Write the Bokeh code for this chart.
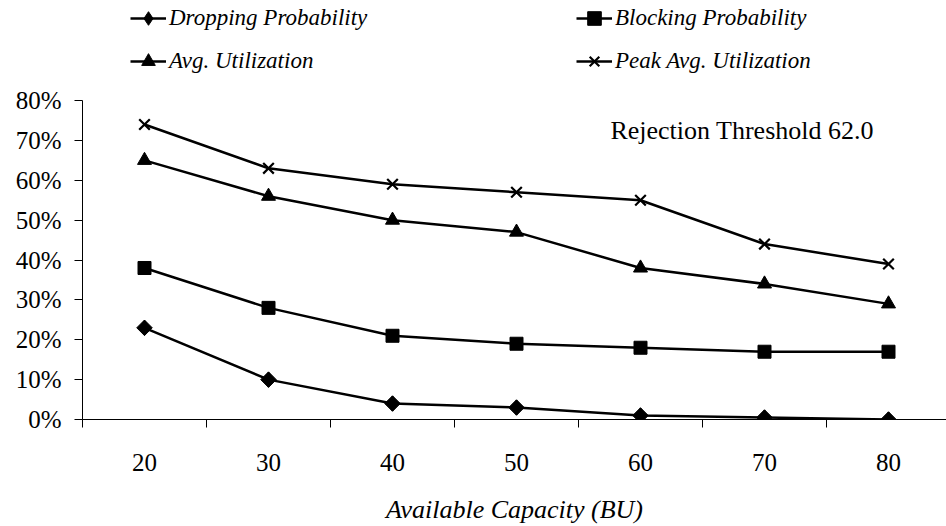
from bokeh.plotting import figure
from bokeh.models import (Range1d, FixedTicker, NumeralTickFormatter, Legend, LegendItem,
                          Label)
from bokeh.embed import file_html
from bokeh.resources import INLINE
import math

# ---- data ----
capacity = ["20", "30", "40", "50", "60", "70", "80"]
dropping = [0.23, 0.10, 0.04, 0.03, 0.01, 0.005, 0.0]
blocking = [0.38, 0.28, 0.21, 0.19, 0.18, 0.17, 0.17]
avg_util = [0.65, 0.56, 0.50, 0.47, 0.38, 0.34, 0.29]
peak_util = [0.74, 0.63, 0.59, 0.57, 0.55, 0.44, 0.39]
y_ticks = [0.0, 0.1, 0.2, 0.3, 0.4, 0.5, 0.6, 0.7, 0.8]
note_text = "Rejection Threshold 62.0"
x_title = "Available Capacity (BU)"
series_names = ["Dropping Probability", "Blocking Probability",
                "Avg. Utilization", "Peak Avg. Utilization"]

FONT = "Liberation Serif"

n = len(capacity)
xpos = [i + 0.5 for i in range(n)]

W, H = 946, 526
left, bottom = 82, 103
frame_w = W - left
frame_h = H - bottom
cat_px = 124.0
px_per_unit = 322 / 0.8

p = figure(width=W, height=H, output_backend="svg", toolbar_location=None,
           x_range=Range1d(0, frame_w / cat_px), y_range=Range1d(0, frame_h / px_per_unit),
           min_border_left=left, min_border_right=0, min_border_top=0,
           min_border_bottom=bottom)
p.outline_line_color = None
p.xgrid.visible = False
p.ygrid.visible = False
p.background_fill_color = "white"
p.border_fill_color = "white"

# y axis
ya = p.yaxis[0]
ya.ticker = FixedTicker(ticks=y_ticks)
ya.formatter = NumeralTickFormatter(format="0%")
ya.bounds = (0, 0.8)
ya.major_tick_out = 8
ya.major_tick_in = 0
ya.minor_tick_out = 0
ya.minor_tick_in = 0
ya.axis_line_color = "black"
ya.major_tick_line_color = "black"
ya.major_label_text_font = FONT
ya.major_label_text_font_size = "25px"
ya.major_label_text_color = "black"
ya.major_label_standoff = 13

# x axis
xa = p.xaxis[0]
xa.ticker = FixedTicker(ticks=xpos, minor_ticks=list(range(n + 1)))
xa.major_label_overrides = {x: c for x, c in zip(xpos, capacity)}
xa.major_tick_out = 0
xa.major_tick_in = 0
xa.minor_tick_out = 8
xa.minor_tick_in = 0
xa.minor_tick_line_color = "black"
xa.axis_line_color = "black"
xa.major_label_text_font = FONT
xa.major_label_text_font_size = "25px"
xa.major_label_text_color = "black"
xa.major_label_standoff = 26
xa.axis_label = x_title
xa.axis_label_text_font = FONT
xa.axis_label_text_font_style = "italic"
xa.axis_label_text_font_size = "26px"
xa.axis_label_text_color = "black"
xa.axis_label_standoff = 21

LW = 2.5

l1 = p.line(xpos, dropping, line_color="black", line_width=LW)
# diamond used for the legend entry; hidden under the rotated squares in the plot
m1_leg = p.scatter(xpos, dropping, marker="diamond", size=15,
                   fill_color="black", line_color="black")
m1 = p.scatter(xpos, dropping, marker="square", angle=math.pi / 4, size=11,
               fill_color="black", line_color="black")
l2 = p.line(xpos, blocking, line_color="black", line_width=LW)
m2 = p.scatter(xpos, blocking, marker="square", size=13, fill_color="black", line_color="black")
l3 = p.line(xpos, avg_util, line_color="black", line_width=LW)
m3 = p.scatter(xpos, avg_util, marker="triangle", size=14, fill_color="black", line_color="black")
l4 = p.line(xpos, peak_util, line_color="black", line_width=LW)
m4 = p.scatter(xpos, peak_util, marker="x", size=15, line_color="black", line_width=2.2)

# column-major fill: col 1 = Dropping, Avg ; col 2 = Blocking, Peak
legend = Legend(items=[
    LegendItem(label=series_names[0], renderers=[l1, m1_leg]),
    LegendItem(label=series_names[2], renderers=[l3, m3]),
    LegendItem(label=series_names[1], renderers=[l2, m2]),
    LegendItem(label=series_names[3], renderers=[l4, m4]),
], ncols=2, location=(48, 341))
legend.padding = 0
legend.margin = 0
legend.spacing = 9
legend.glyph_width = 36
legend.glyph_height = 34
legend.label_standoff = 3
legend.label_width = 398
legend.label_height = 20
legend.border_line_color = None
legend.background_fill_alpha = 0
legend.label_text_font = FONT
legend.label_text_font_style = "italic"
legend.label_text_font_size = "23px"
legend.label_text_color = "black"
p.add_layout(legend, "center")

note = Label(x=5.32, y=0.7255, text=note_text, text_align="center", text_baseline="middle",
             text_font=FONT, text_font_size="26px", text_color="black")
p.add_layout(note)

open("out.html", "w").write(file_html(p, INLINE))
